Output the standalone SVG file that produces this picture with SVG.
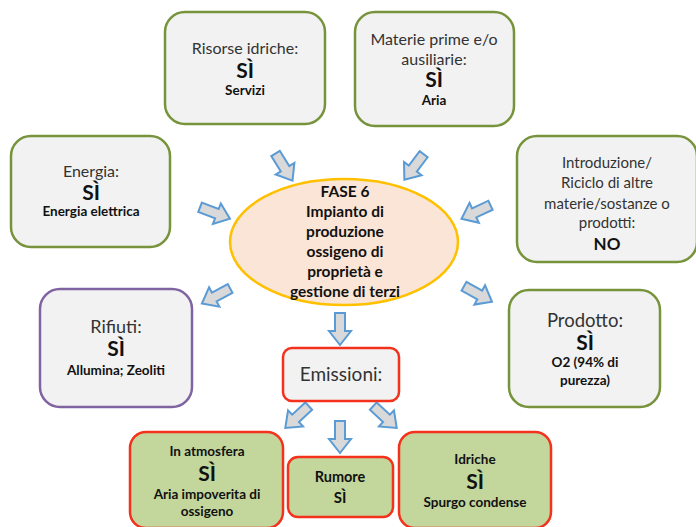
<svg xmlns="http://www.w3.org/2000/svg" xmlns:xlink="http://www.w3.org/1999/xlink" width="696" height="527" viewBox="0 0 696 527">
  <style>
    .box { fill: #f2f2f2; stroke: #77933c; stroke-width: 2.5; }
    .waste { fill: #f2f2f2; stroke: #8064a2; stroke-width: 2.5; }
    .emis { fill: #f2f2f2; stroke: #f4311c; stroke-width: 2.5; }
    .emisg { fill: #c3d69b; stroke: #f4311c; stroke-width: 2.5; }
    .core { fill: #fbe5d6; stroke: #ffc000; stroke-width: 2.5; }
    text { font-family: Lato, "Open Sans", "Liberation Sans", sans-serif; text-anchor: middle; fill: #222; }
    .lbl { font-size: 16px; fill: #333; }
    .yes { font-size: 21px; font-weight: bold; fill: #111; }
    .det { font-size: 13.5px; font-weight: bold; fill: #111; }
    .core-t { font-size: 15.5px; font-weight: bold; fill: #111; }
    .arr { fill: #d9d9d9; stroke: #5b9bd5; stroke-width: 2; stroke-linejoin: miter; }
  </style>
  <defs>
    <!-- block arrow pointing along +x, centred on the origin -->
    <path id="blk" d="M-16,-5 H2 V-11 L16,0 L2,11 V5 H-16 Z"/>
  </defs>

  <rect width="696" height="527" fill="#ffffff"/>

  <g id="connectors" class="arr">
    <use xlink:href="#blk" transform="translate(284,167) rotate(58)"/>
    <use xlink:href="#blk" transform="translate(414,167) rotate(127)"/>
    <use xlink:href="#blk" transform="translate(215,213) rotate(21)"/>
    <use xlink:href="#blk" transform="translate(476,212) rotate(155)"/>
    <use xlink:href="#blk" transform="translate(216,296) rotate(152)"/>
    <use xlink:href="#blk" transform="translate(478,294) rotate(29)"/>
    <use xlink:href="#blk" transform="translate(340,329) rotate(90)"/>
    <use xlink:href="#blk" transform="translate(297,417) rotate(137)"/>
    <use xlink:href="#blk" transform="translate(340,437) rotate(90)"/>
    <use xlink:href="#blk" transform="translate(385,417) rotate(43)"/>
  </g>

  <g id="risorse-idriche">
    <rect class="box" x="165" y="12" width="160" height="112" rx="20"/>
    <text class="lbl" x="245" y="54">Risorse idriche:</text>
    <text class="yes" x="245" y="78">SÌ</text>
    <text class="det" x="245" y="95">Servizi</text>
  </g>

  <g id="materie-prime">
    <rect class="box" x="355" y="12" width="159" height="114" rx="20"/>
    <text class="lbl" x="434" y="45">Materie prime e/o</text>
    <text class="lbl" x="434" y="65">ausiliarie:</text>
    <text class="yes" x="434" y="87">SÌ</text>
    <text class="det" x="434" y="105">Aria</text>
  </g>

  <g id="energia">
    <rect class="box" x="11" y="136" width="159" height="111" rx="20"/>
    <text class="lbl" x="91" y="177">Energia:</text>
    <text class="yes" x="91" y="200">SÌ</text>
    <text class="det" x="91" y="216">Energia elettrica</text>
  </g>

  <g id="introduzione">
    <rect class="box" x="517" y="136" width="180" height="126" rx="20"/>
    <text class="lbl" x="607" y="168" style="font-size:15px">Introduzione/</text>
    <text class="lbl" x="607" y="188" style="font-size:15px">Riciclo di altre</text>
    <text class="lbl" x="607" y="209" style="font-size:15px">materie/sostanze o</text>
    <text class="lbl" x="607" y="228" style="font-size:15px">prodotti:</text>
    <text class="yes" x="607" y="250" style="font-size:17px">NO</text>
  </g>

  <g id="fase-6">
    <ellipse class="core" cx="344" cy="242" rx="114" ry="63"/>
    <text class="core-t" x="345" y="197">FASE 6</text>
    <text class="core-t" x="345" y="217">Impianto di</text>
    <text class="core-t" x="345" y="237">produzione</text>
    <text class="core-t" x="345" y="257">ossigeno di</text>
    <text class="core-t" x="345" y="277">proprietà e</text>
    <text class="core-t" x="345" y="297">gestione di terzi</text>
  </g>

  <g id="rifiuti">
    <rect class="waste" x="40" y="289" width="152" height="118" rx="20"/>
    <text class="lbl" x="116" y="333" style="font-size:18px">Rifiuti:</text>
    <text class="yes" x="116" y="356">SÌ</text>
    <text class="det" x="116" y="375">Allumina; Zeoliti</text>
  </g>

  <g id="prodotto">
    <rect class="box" x="509" y="290" width="151" height="117" rx="20"/>
    <text class="lbl" x="585" y="327" style="font-size:18.5px">Prodotto:</text>
    <text class="yes" x="585" y="350">SÌ</text>
    <text class="det" x="585" y="367">O2 (94% di</text>
    <text class="det" x="585" y="385">purezza)</text>
  </g>

  <g id="emissioni">
    <rect class="emis" x="283" y="348" width="116" height="53" rx="9"/>
    <text class="lbl" x="341" y="381" style="font-size:19px">Emissioni:</text>
  </g>

  <g id="in-atmosfera">
    <rect class="emisg" x="130" y="432" width="153" height="96" rx="16"/>
    <text class="det" x="207" y="456">In atmosfera</text>
    <text class="yes" x="207" y="481">SÌ</text>
    <text class="det" x="207" y="499">Aria impoverita di</text>
    <text class="det" x="207" y="516">ossigeno</text>
  </g>

  <g id="rumore">
    <rect class="emisg" x="288" y="457" width="105" height="60" rx="10"/>
    <text class="det" x="340" y="482" style="font-size:14.5px">Rumore</text>
    <text class="det" x="340" y="503" style="font-size:15px">SÌ</text>
  </g>

  <g id="idriche">
    <rect class="emisg" x="399" y="432" width="152" height="96" rx="16"/>
    <text class="det" x="475" y="464">Idriche</text>
    <text class="yes" x="475" y="489">SÌ</text>
    <text class="det" x="475" y="507">Spurgo condense</text>
  </g>
</svg>
